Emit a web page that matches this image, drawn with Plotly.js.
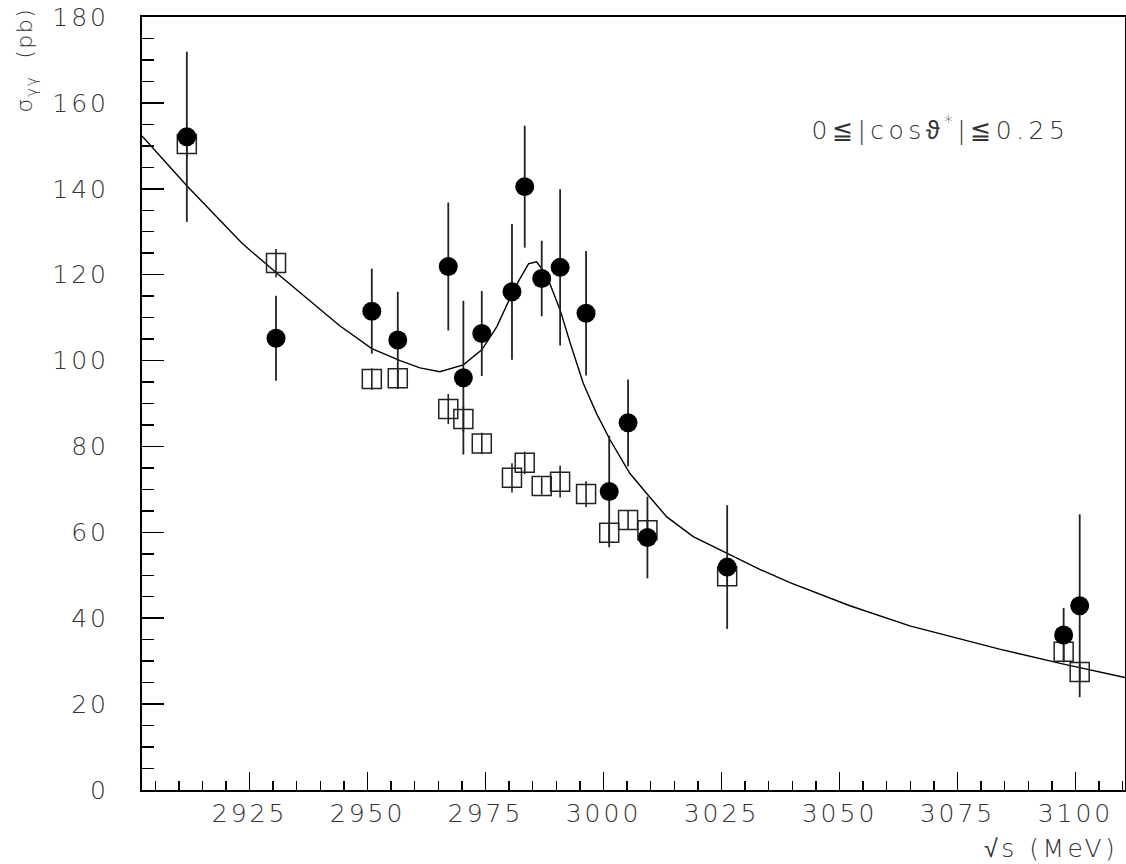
<!DOCTYPE html>
<html>
<head>
<meta charset="utf-8">
<script src="https://cdn.plot.ly/plotly-3.0.1.min.js"></script>
<style>
html,body{margin:0;padding:0;background:#fff;}
#chart{width:1126px;height:864px;}
#chart .xtick text, #chart .ytick text { letter-spacing: 3px; }
#chart g.annotation[data-index="0"] text { letter-spacing: 1.5px; }
#chart g.annotation[data-index="1"] text { letter-spacing: 3.5px; }
#chart g.annotation[data-index="2"] text { letter-spacing: 4.5px; }
</style>
</head>
<body>
<div id="chart"></div>
<script>
// sqrt(s) in MeV
const energy = [2911.7, 2930.6, 2950.9, 2956.4, 2967.1, 2970.3, 2974.2, 2980.6, 2983.3, 2986.9, 2990.8, 2996.3, 3001.2, 3005.2, 3009.3, 3026.2, 3097.5, 3100.9];
// filled circles
const sigmaFilled = [152.1, 105.2, 111.5, 104.8, 121.9, 96.0, 106.3, 116.0, 140.5, 119.1, 121.7, 111.0, 69.5, 85.5, 58.8, 51.9, 36.1, 42.9];
const errFilled   = [19.8, 9.9, 9.9, 11.2, 14.9, 17.9, 9.9, 15.8, 14.2, 8.8, 18.2, 14.5, 13.0, 10.1, 9.5, 14.4, 6.3, 21.3];
// open squares
const sigmaOpen = [150.4, 122.7, 95.7, 95.9, 88.7, 86.4, 80.7, 72.7, 76.2, 70.8, 71.8, 68.9, 59.9, 62.9, 60.5, 49.8, 32.2, 27.5];
const errOpen   = [3.0, 3.3, 2.5, 2.5, 3.5, 3.0, 2.5, 3.4, 2.6, 2.0, 3.7, 3.0, 2.5, 2.3, 2.5, 2.5, 2.5, 2.5];
// fitted curve
const fitX = [2902.2, 2911.7, 2923.4, 2930.6, 2944.1, 2950.9, 2956.9, 2961.1, 2965.3, 2970.3, 2974.2, 2977.4, 2980.5, 2982.3, 2984.1, 2985.8, 2986.9, 2988.6, 2990.8, 2992.9, 2995.7, 2998.5, 3001.4, 3005.6, 3009.1, 3013.4, 3019.0, 3026.2, 3033.1, 3039.5, 3052.2, 3064.9, 3083.9, 3097.5, 3110.5];
const fitY = [152.3, 140.7, 127.3, 120.5, 108.1, 102.8, 100.0, 98.3, 97.4, 99.0, 102.5, 107.9, 115.3, 119.1, 122.5, 123.0, 121.4, 118.0, 111.8, 104.2, 94.7, 87.7, 81.5, 73.7, 69.1, 63.6, 59.0, 55.1, 51.4, 48.3, 42.9, 38.2, 32.8, 29.3, 26.2];

const FONT = '"DejaVu Sans", "Liberation Sans", sans-serif';
const TXT = '#333';

const traces = [
  {x: fitX, y: fitY, mode: 'lines', line: {color: '#000', width: 1.4}, hoverinfo: 'skip'},
  {x: energy, y: sigmaOpen, mode: 'markers',
   marker: {symbol: 'square-open', size: 19, color: '#222', line: {width: 1.5, color: '#222'}},
   error_y: {type: 'data', array: errOpen, visible: true, width: 0, thickness: 1.6, color: '#222'}},
  {x: energy, y: sigmaFilled, mode: 'markers',
   marker: {symbol: 'circle', size: 19, color: '#000'},
   error_y: {type: 'data', array: errFilled, visible: true, width: 0, thickness: 1.8, color: '#222'}}
];

const layout = {
  width: 1126, height: 864,
  margin: {l: 142, r: 1, t: 17, b: 74},
  paper_bgcolor: '#fff', plot_bgcolor: '#fff',
  showlegend: false,
  font: {family: FONT, color: TXT},
  xaxis: {
    range: [2902.2, 3110.5], tick0: 2925, dtick: 25,
    ticks: 'inside', ticklen: 18, tickwidth: 1.6, tickcolor: '#000',
    minor: {dtick: 5, tick0: 2925, ticks: 'inside', ticklen: 9, tickwidth: 1.4, tickcolor: '#000', showgrid: false},
    showgrid: false, zeroline: false,
    showline: true, linecolor: '#000', linewidth: 2, mirror: true,
    tickfont: {family: FONT, size: 25, color: TXT, weight: 300},
    ticklabelstandoff: 0
  },
  yaxis: {
    range: [0, 180], tick0: 0, dtick: 20,
    ticks: 'inside', ticklen: 22, tickwidth: 1.6, tickcolor: '#000',
    minor: {dtick: 5, tick0: 0, ticks: 'inside', ticklen: 12, tickwidth: 1.4, tickcolor: '#000', showgrid: false},
    showgrid: false, zeroline: false,
    showline: true, linecolor: '#000', linewidth: 2, mirror: true,
    tickfont: {family: FONT, size: 25, color: TXT, weight: 300},
    ticklabelstandoff: 26
  },
  annotations: [
    {text: 'σ<sub>γγ</sub>  (pb)', xref: 'paper', yref: 'paper', x: -0.134, y: 1.006,
     xanchor: 'left', yanchor: 'top', textangle: -90, showarrow: false,
     font: {family: FONT, size: 22, color: TXT, weight: 300}},
    {text: '√s (MeV)', xref: 'paper', yref: 'paper', x: 0.981, y: -0.076,
     xanchor: 'right', yanchor: 'middle', showarrow: false,
     font: {family: FONT, size: 25, color: TXT, weight: 300}},
    {text: '0≦|cosϑ<sup>*</sup>|≦0.25', xref: 'paper', yref: 'paper', x: 0.812, y: 0.856,
     xanchor: 'center', yanchor: 'middle', showarrow: false,
     font: {family: FONT, size: 25, color: TXT, weight: 300}}
  ]
};

Plotly.newPlot('chart', traces, layout, {displayModeBar: false, staticPlot: true});
</script>
</body>
</html>
